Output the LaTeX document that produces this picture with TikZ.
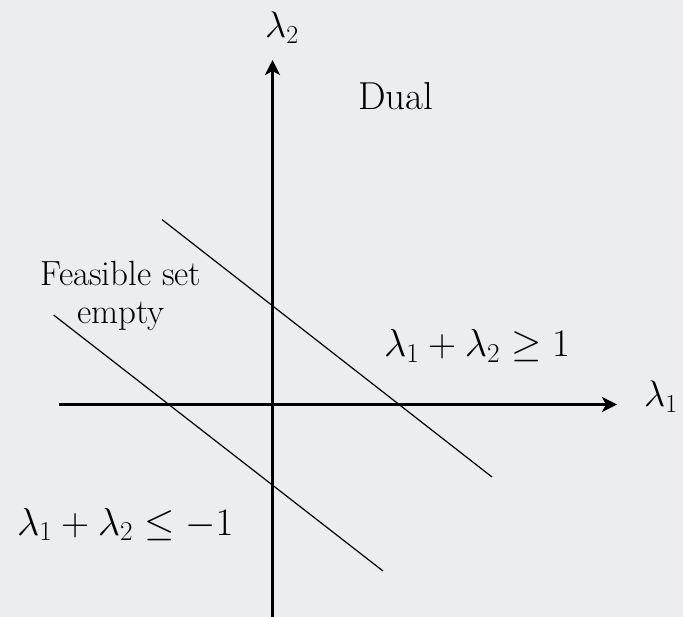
\RequirePackage{fix-cm}
\documentclass[tikz,border=0pt]{standalone}
\usetikzlibrary{arrows.meta}
\definecolor{bg}{RGB}{236,237,239}
\begin{document}
\begin{tikzpicture}[x=1pt,y=-1pt,
  axis/.style={line width=3pt,-{Stealth[length=15pt,width=15pt,inset=4pt]}},
  bound/.style={line width=1.2pt},
  lbl/.style={inner sep=0pt,anchor=base west},
  mth/.style={lbl,font=\fontsize{39}{39}\selectfont},
  axl/.style={lbl,font=\fontsize{37}{37}\selectfont},
  txt/.style={inner sep=0pt,font=\fontsize{35}{38}\selectfont}]
\fill[bg] (0,0) rectangle (683,617);
\useasboundingbox (0,0) rectangle (683,617);
\coordinate (hl) at (59,404.5);
\coordinate (hr) at (617,404.5);
\coordinate (vb) at (272.5,617);
\coordinate (vt) at (272.5,60);
\draw[axis] (hl) -- (hr);
\draw[axis] (vb) -- (vt);
\coordinate (u1) at (162,219.6);
\coordinate (u2) at (492,477);
\coordinate (l1) at (53.6,315);
\coordinate (l2) at (383,571);
\draw[bound] (u1) -- (u2);
\draw[bound] (l1) -- (l2);
\node[axl] (xl) at (644,407) {$\lambda_1$};
\node[axl] (yl) at (265,38) {$\lambda_2$};
\node[lbl,font=\fontsize{39}{39}\selectfont] (dual) at (358,110) {Dual};
\node[txt,align=center] (fe) at (121,296) {Feasible set\\empty};
\node[mth] (ge) at (384,357) {$\lambda_1+\lambda_2\geq 1$};
\node[mth] (le) at (17,535) {$\lambda_1+\lambda_2\leq -1$};
\end{tikzpicture}
\end{document}
